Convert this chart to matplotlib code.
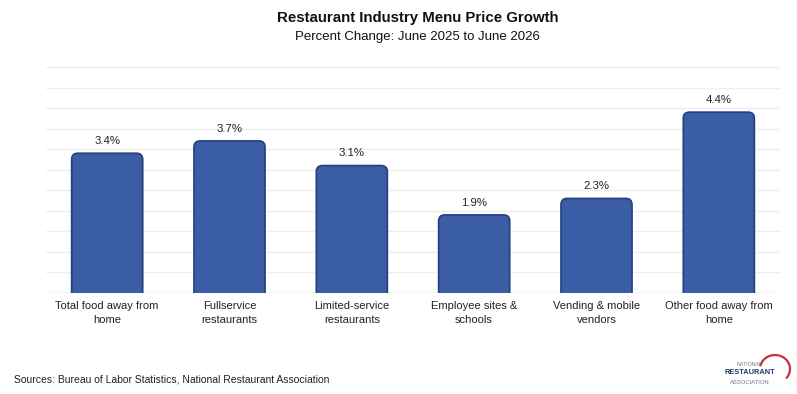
import matplotlib.pyplot as plt
from matplotlib.patches import FancyBboxPatch, Arc

categories = ["Total food away from\nhome", "Fullservice\nrestaurants", "Limited-service\nrestaurants",
              "Employee sites &\nschools", "Vending & mobile\nvendors", "Other food away from\nhome"]
values = [3.4, 3.7, 3.1, 1.9, 2.3, 4.4]

plt.rcParams['font.family'] = ['Liberation Sans', 'DejaVu Sans']
narrow = ['Liberation Sans Narrow', 'Liberation Sans', 'DejaVu Sans']

fig = plt.figure(figsize=(7.97, 3.94), dpi=100)
ax = fig.add_axes([46 / 797, 1 - 293 / 394, 734 / 797, 226 / 394])

x = range(len(values))
bars = ax.bar(x, values, width=0.58, color='#3B5DA6', edgecolor='#2A4786', linewidth=1.2, zorder=3)

# swap plain bars for rounded ones (bottom corners hidden under the axis)
for b in bars:
    b.set_visible(False)
    rp = FancyBboxPatch((b.get_x(), -0.3), b.get_width(), b.get_height() + 0.3,
                        boxstyle="round,pad=0,rounding_size=0.05", mutation_aspect=3.0,
                        facecolor='#3B5DA6', edgecolor='#27427E', linewidth=1.3, zorder=3)
    ax.add_patch(rp)
    ax.text(b.get_x() + b.get_width() / 2, b.get_height() + 0.18, f"{b.get_height():.1f}%",
            ha='center', va='bottom', fontsize=8.2, color='#222222')

ax.set_ylim(0, 5.5)
ax.set_xlim(-0.5, len(values) - 0.5)
ax.set_yticks([i * 0.5 for i in range(12)])
ax.set_yticklabels([])
ax.tick_params(left=False, bottom=False, pad=2.5)
ax.set_xticks(list(x))
ax.set_xticklabels(categories, fontsize=8, color='#222222', linespacing=1.45)
ax.grid(axis='y', color='#EEEEEE', linewidth=1, zorder=0)
for s in ax.spines.values():
    s.set_visible(False)
ax.axhline(0, color='#E6E6E6', linewidth=1, zorder=2)

fig.text(0.524, 1 - 18 / 394, "Restaurant Industry Menu Price Growth", ha='center', va='center',
         fontsize=10.8, fontweight='bold', family=narrow, color='#111111')
fig.text(0.524, 1 - 37 / 394, "Percent Change: June 2025 to June 2026", ha='center', va='center',
         fontsize=9.5, family=narrow, color='#111111')
fig.text(14 / 797, 1 - 380 / 394, "Sources: Bureau of Labor Statistics, National Restaurant Association",
         ha='left', va='center', fontsize=7.5, color='#222222')

# logo
fig.text(750 / 797, 1 - 365 / 394, "NATIONAL", ha='center', va='center', fontsize=3.8, color='#6E7A8A')
fig.text(750 / 797, 1 - 373 / 394, "RESTAURANT", ha='center', va='center', fontsize=5.3,
         fontweight='bold', color='#1F3A6E')
fig.text(750 / 797, 1 - 382 / 394, "ASSOCIATION", ha='center', va='center', fontsize=4.2, color='#6E7A8A')
arc = Arc((775 / 797, 1 - 369 / 394), 30 / 797, 28 / 394, theta1=-60, theta2=160,
          color='#C8303A', linewidth=1.6, transform=fig.transFigure)
fig.add_artist(arc)

fig.savefig("out.png", dpi=100)
